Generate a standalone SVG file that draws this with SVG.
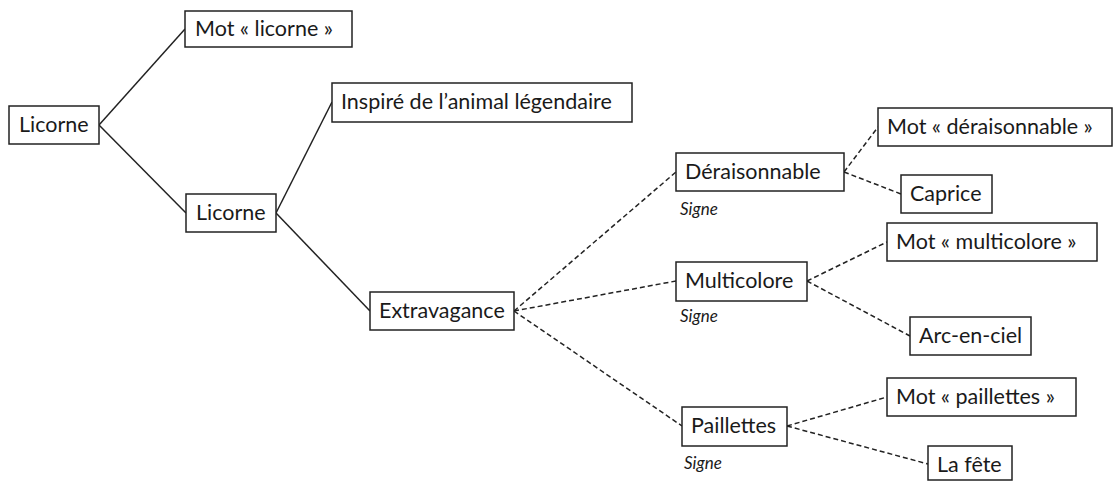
<svg xmlns="http://www.w3.org/2000/svg" width="1113" height="481" viewBox="0 0 1113 481">
<style>
.n rect{fill:#fff;stroke:#222;stroke-width:1.5}
.n text{font-family:Lato,"Open Sans",sans-serif;font-size:21.5px;fill:#1a1a1a}
.s{font-family:Lato,"Open Sans",sans-serif;font-size:17px;font-style:italic;fill:#1a1a1a}
.c line{stroke:#222;stroke-width:1.5}
.c .d{stroke-dasharray:5 3}
</style>
<rect width="1113" height="481" fill="#fff"/>
<g class="c">
<line x1="99" y1="125" x2="185" y2="29"/>
<line x1="99" y1="125" x2="186" y2="213"/>
<line x1="276" y1="213" x2="332" y2="102"/>
<line x1="276" y1="213" x2="370" y2="311"/>
<line class="d" x1="514" y1="311" x2="676" y2="172"/>
<line class="d" x1="514" y1="311" x2="676" y2="281"/>
<line class="d" x1="514" y1="311" x2="682" y2="426"/>
<line class="d" x1="844" y1="172" x2="878" y2="127"/>
<line class="d" x1="844" y1="172" x2="901" y2="194"/>
<line class="d" x1="807" y1="281" x2="887" y2="242"/>
<line class="d" x1="807" y1="281" x2="910" y2="336"/>
<line class="d" x1="787" y1="426" x2="887" y2="397"/>
<line class="d" x1="787" y1="426" x2="928" y2="464"/>
</g>
<g class="n" id="root"><rect x="9" y="106" width="90" height="38"/><text x="19" y="132">Licorne</text></g>
<g class="n" id="motlicorne"><rect x="185" y="11" width="167" height="36"/><text x="195" y="36">Mot « licorne »</text></g>
<g class="n" id="licorne2"><rect x="186" y="194" width="90" height="38"/><text x="196" y="220">Licorne</text></g>
<g class="n" id="inspire"><rect x="332" y="83" width="300" height="39"/><text x="341" y="109">Inspiré de l’animal légendaire</text></g>
<g class="n" id="extravagance"><rect x="370" y="292" width="144" height="38"/><text x="379" y="318">Extravagance</text></g>
<g class="n" id="deraisonnable"><rect x="676" y="153" width="168" height="38"/><text x="685" y="179">Déraisonnable</text></g>
<text class="s" x="680" y="215">Signe</text>
<g class="n" id="motderaisonnable"><rect x="878" y="108" width="234" height="38"/><text x="887" y="134">Mot « déraisonnable »</text></g>
<g class="n" id="caprice"><rect x="901" y="175" width="91" height="38"/><text x="910" y="201">Caprice</text></g>
<g class="n" id="multicolore"><rect x="676" y="262" width="131" height="39"/><text x="685" y="288">Multicolore</text></g>
<text class="s" x="680" y="322">Signe</text>
<g class="n" id="motmulticolore"><rect x="887" y="223" width="210" height="38"/><text x="896" y="249">Mot « multicolore »</text></g>
<g class="n" id="arcenciel"><rect x="910" y="317" width="121" height="38"/><text x="919" y="343">Arc-en-ciel</text></g>
<g class="n" id="paillettes"><rect x="682" y="407" width="105" height="39"/><text x="691" y="433">Paillettes</text></g>
<text class="s" x="684" y="469">Signe</text>
<g class="n" id="motpaillettes"><rect x="887" y="378" width="189" height="38"/><text x="896" y="404">Mot « paillettes »</text></g>
<g class="n" id="lafete"><rect x="928" y="446" width="84" height="34"/><text x="937" y="472">La fête</text></g>
</svg>
